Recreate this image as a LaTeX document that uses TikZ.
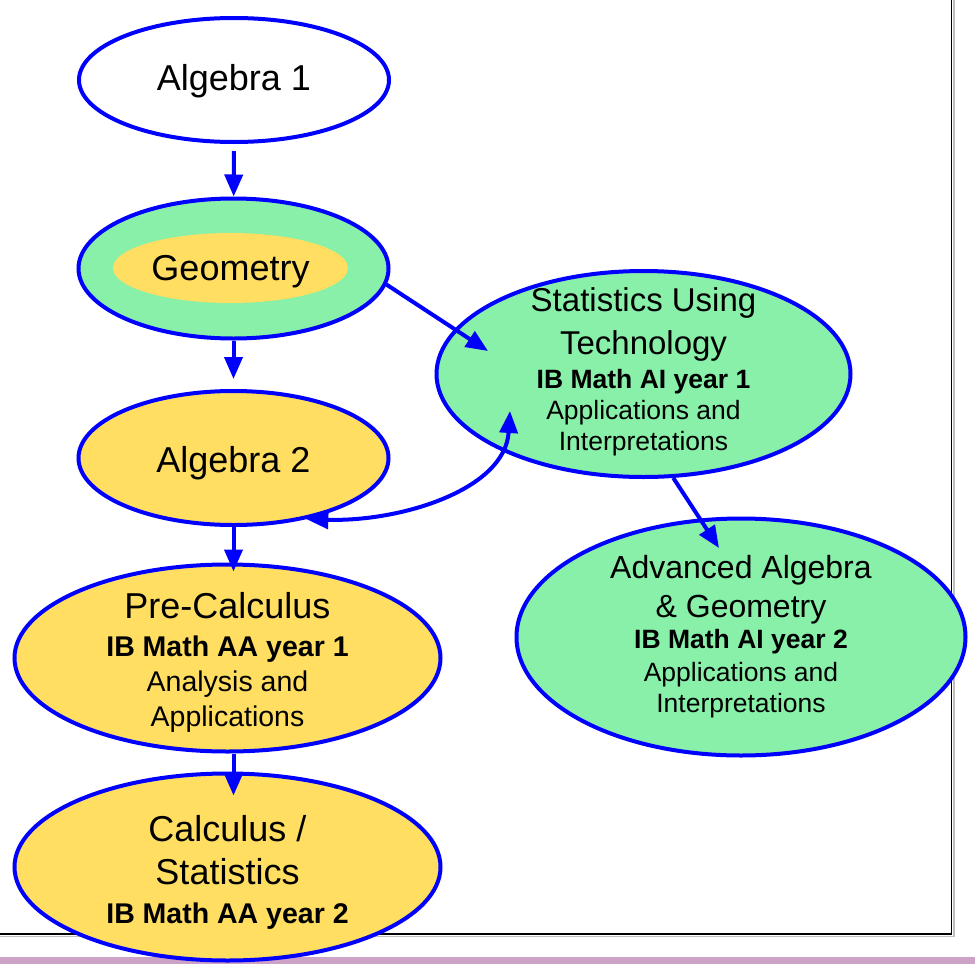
\documentclass[tikz,border=0pt]{standalone}
\usepackage{fontspec}
\setmainfont{Liberation Sans}
\usetikzlibrary{shapes.geometric,arrows.meta}
\definecolor{mint}{RGB}{136,240,168}
\definecolor{sun}{RGB}{255,222,98}
\definecolor{band}{RGB}{204,162,198}
\tikzset{
  >={Triangle[width=18pt,length=22pt]},
  course/.style={ellipse,draw=blue,line width=4pt,inner sep=0pt},
  txt/.style={align=center,inner sep=0pt},
  link/.style={blue,line width=4pt,->}
}
\begin{document}
\begin{tikzpicture}[x=1pt,y=-1pt]
  \useasboundingbox (0,0) rectangle (975,964);
  \fill[band](0,957) rectangle (975,964);
  \draw[black!25,line width=1.5pt](0,936.5)--(954,936.5)--(954,0);
  \draw[line width=1.8pt](0,934)--(951.5,934)--(951.5,0);
  \node[course,fill=white,minimum width=310,minimum height=124] (alg1) at (234,80) {};
  \node[course,fill=mint,minimum width=310,minimum height=140] (geo) at (233.5,268.5) {};
  \node[ellipse,fill=sun,minimum width=235,minimum height=70] (geoin) at (230.5,268) {};
  \node[course,fill=sun,minimum width=310,minimum height=134] (alg2) at (233.5,458) {};
  \node[course,fill=mint,minimum width=414,minimum height=206] (stats) at (643.5,374) {};
  \node[course,fill=sun,minimum width=426,minimum height=187] (pre) at (227.5,658) {};
  \node[course,fill=sun,minimum width=426,minimum height=187] (calc) at (227.5,867) {};
  \node[course,fill=mint,minimum width=449,minimum height=237] (adv) at (741,637) {};
  \node[txt,font=\fontsize{36}{36}\selectfont] (alg1t) at ([yshift=-1pt]alg1.center) {Algebra 1};
  \node[txt,font=\fontsize{36}{36}\selectfont] (geot) at ([yshift=-4pt]geoin.center) {Geometry};
  \node[txt,font=\fontsize{36}{36}\selectfont] (alg2t) at ([yshift=-5pt]alg2.center) {Algebra 2};
  \node[txt,font=\fontsize{33}{31}\selectfont] (statst) at ([yshift=2pt]stats.center)
    {Statistics Using\\[12pt]Technology\\[3pt]
     {\fontsize{26.5}{31}\selectfont\bfseries IB Math AI year 1}\\
     {\fontsize{26.5}{31}\selectfont Applications and}\\
     {\fontsize{26.5}{31}\selectfont Interpretations}};
  \node[txt,font=\fontsize{36}{35}\selectfont] (pret) at ([yshift=-4pt]pre.center)
    {Pre-Calculus\\[3pt]
     {\fontsize{28.5}{35}\selectfont\bfseries IB Math AA year 1}\\
     {\fontsize{28.5}{35}\selectfont Analysis and}\\
     {\fontsize{28.5}{35}\selectfont Applications}};
  \node[txt,font=\fontsize{36}{43}\selectfont] (calct) at ([yshift=-5pt]calc.center)
    {Calculus /\\Statistics\\[-4pt]
     {\fontsize{28.5}{35}\selectfont\bfseries IB Math AA year 2}};
  \node[txt,font=\fontsize{32}{32}\selectfont] (advt) at (adv)
    {Advanced Algebra\\[7pt]\& Geometry\\[-1pt]
     {\fontsize{26.5}{31}\selectfont\bfseries IB Math AI year 2}\\[1pt]
     {\fontsize{26.5}{31}\selectfont Applications and}\\[-1pt]
     {\fontsize{26.5}{31}\selectfont Interpretations}};
  \coordinate (statsin) at (488,351);
  \coordinate (statsin2) at (510,411);
  \coordinate (advin) at (719,548);
  \draw[link,shorten <=7pt](alg1)--(geo);
  \draw[link,shorten >=10pt](geo)--(alg2);
  \draw[link,shorten >=-9pt](alg2.south)--(alg2.south |- pre.north);
  \draw[link,shorten >=-24pt](pre.south -| alg2)--(calc.north -| alg2);
  \draw[link](geo.-6)--(statsin);
  \draw[link](stats.-74)--(advin);
  \draw[link,<->](alg2.-40) .. controls (400,522) and (505,490) .. (statsin2);
\end{tikzpicture}
\end{document}
